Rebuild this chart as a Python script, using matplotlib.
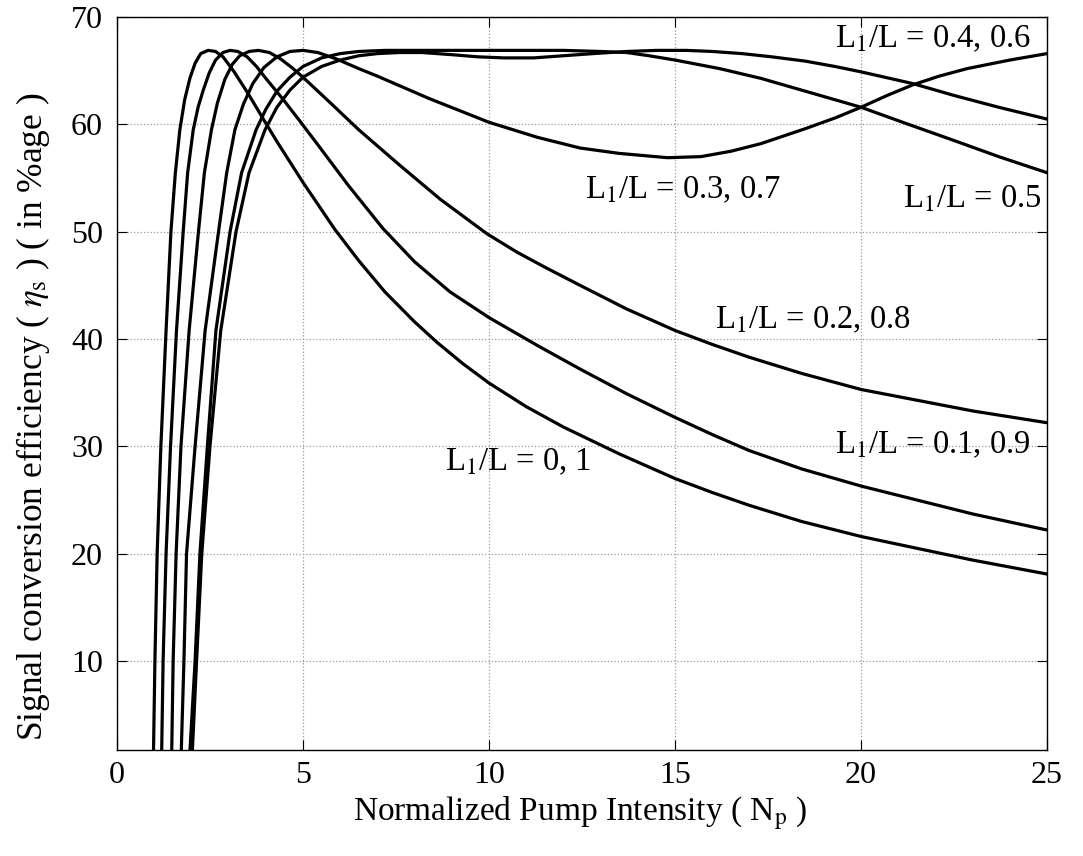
import matplotlib
matplotlib.use("Agg")
import matplotlib.pyplot as plt

plt.rcParams['font.family'] = ['Liberation Serif', 'DejaVu Serif']
plt.rcParams['mathtext.fontset'] = 'stix'

# L1/L = 0, 1
x_a = [0.975, 1.02, 1.08, 1.18, 1.32, 1.45, 1.57, 1.69, 1.82, 1.96, 2.1, 2.25, 2.45, 2.65, 2.85, 3.15,
       3.52, 3.9, 4.3, 5.0, 5.86, 6.5, 7.2, 8.0, 8.6, 9.3, 10.0, 11.0, 12.0, 13.5, 15.0, 16.0, 17.0,
       18.4, 20.0, 21.5, 23.0, 25.0]
y_a = [0, 10, 20, 30, 40.8, 50, 55.5, 59.5, 62.3, 64.3, 65.7, 66.6, 66.9, 66.8, 66.3, 64.9,
       62.9, 60.7, 58.4, 54.6, 50.2, 47.3, 44.4, 41.6, 39.7, 37.7, 35.9, 33.7, 31.8, 29.3, 27.0, 25.7, 24.5,
       23.0, 21.6, 20.5, 19.4, 18.1]

# L1/L = 0.1, 0.9
x_b = [1.195, 1.24, 1.32, 1.44, 1.60, 1.78, 1.90, 2.05, 2.18, 2.32, 2.48, 2.65, 2.85, 3.04, 3.25, 3.5,
       3.75, 4.0, 4.45, 4.92, 5.4, 6.2, 7.15, 8.0, 8.95, 10.0, 11.3, 12.45, 13.7, 15.0, 16.0, 17.0,
       18.4, 20.0, 21.5, 23.0, 25.0]
y_b = [0, 10, 20, 30, 40.8, 50, 55.5, 59.5, 61.6, 63.2, 64.8, 66.0, 66.7, 66.9, 66.8, 66.3,
       65.4, 64.3, 62.4, 60.3, 58.1, 54.4, 50.3, 47.2, 44.4, 42.0, 39.4, 37.2, 34.9, 32.7, 31.1, 29.6,
       27.9, 26.3, 25.0, 23.7, 22.2]

# L1/L = 0.2, 0.8
x_c = [1.465, 1.51, 1.59, 1.72, 1.94, 2.19, 2.35, 2.54, 2.7, 2.9, 3.1, 3.3, 3.55, 3.8, 4.1, 4.4,
       4.7, 5.0, 5.4, 5.8, 6.5, 7.6, 8.7, 9.95, 10.75, 11.5, 12.45, 13.7, 15.0, 16.0, 17.0, 18.4,
       20.0, 21.5, 23.0, 25.0]
y_c = [0, 10, 20, 30, 40.8, 50, 55.5, 59.5, 62.0, 64.2, 65.6, 66.4, 66.8, 66.9, 66.7, 66.1,
       65.3, 64.4, 63.1, 61.8, 59.5, 56.2, 53.0, 49.8, 48.1, 46.7, 45.0, 42.8, 40.8, 39.5, 38.3, 36.8,
       35.3, 34.3, 33.3, 32.2]

# L1/L = 0.3, 0.7
x_d = [1.715, 1.80, 1.87, 2.10, 2.37, 2.73, 2.95, 3.17, 3.4, 3.65, 3.95, 4.3, 4.65, 5.0, 5.4, 5.9,
       6.5, 7.0, 7.6, 8.4, 9.2, 10.0, 11.3, 12.45, 13.5, 14.8, 15.7, 16.5, 17.3, 18.5, 19.3, 20.0,
       20.7, 21.4, 22.1, 22.85, 24.0, 25.0]
y_d = [0, 10, 20, 30, 40.8, 50, 55.5, 59.5, 61.9, 63.8, 65.3, 66.3, 66.8, 66.9, 66.7, 66.1,
       65.2, 64.5, 63.6, 62.4, 61.3, 60.2, 58.8, 57.8, 57.3, 56.9, 57.0, 57.5, 58.2, 59.6, 60.6, 61.6,
       62.7, 63.7, 64.5, 65.2, 66.0, 66.6]

# L1/L = 0.5
x_e = [1.935, 2.10, 2.23, 2.43, 2.66, 3.04, 3.35, 3.74, 4.0, 4.3, 4.65, 5.0, 5.5, 6.0, 6.5, 7.2,
       8.0, 9.0, 10.0, 11.0, 12.0, 13.0, 13.7, 14.3, 15.0, 16.2, 17.3, 18.5, 20.0, 21.2, 22.5, 23.7, 25.0]
y_e = [0, 10, 20, 30, 40.8, 50, 55.5, 59.5, 61.4, 63.1, 64.4, 65.4, 66.2, 66.6, 66.8, 66.9,
       66.9, 66.9, 66.9, 66.9, 66.9, 66.8, 66.7, 66.4, 66.0, 65.2, 64.3, 63.1, 61.6, 60.1, 58.5, 57.0, 55.5]

# L1/L = 0.4, 0.6
x_f = [2.005, 2.14, 2.28, 2.50, 2.79, 3.20, 3.55, 3.98, 4.3, 4.65, 5.0, 5.5, 6.0, 6.5, 7.0, 7.6,
       8.2, 9.0, 9.7, 10.4, 11.2, 12.0, 12.8, 13.7, 14.5, 15.3, 16.0, 16.8, 17.6, 18.5, 19.3, 20.0,
       21.4, 22.5, 23.7, 25.0]
y_f = [0, 10, 20, 30, 40.8, 50, 55.5, 59.5, 61.6, 63.2, 64.4, 65.4, 66.0, 66.4, 66.6, 66.7,
       66.7, 66.5, 66.3, 66.2, 66.2, 66.4, 66.6, 66.8, 66.9, 66.9, 66.8, 66.6, 66.3, 65.9, 65.4, 64.9,
       63.8, 62.7, 61.6, 60.5]

curves = [(x_a, y_a), (x_b, y_b), (x_c, y_c), (x_d, y_d), (x_e, y_e), (x_f, y_f)]

labels = [r'L$_1$/L = 0.4, 0.6', r'L$_1$/L = 0.3, 0.7', r'L$_1$/L = 0.5',
          r'L$_1$/L = 0.2, 0.8', r'L$_1$/L = 0.1, 0.9', r'L$_1$/L = 0, 1']
label_x = [19.3, 12.58, 21.13, 16.08, 19.3, 8.82]
label_y = [68.0, 53.9, 53.0, 41.8, 30.1, 28.5]

x_ticks = [0, 5, 10, 15, 20, 25]
y_ticks = [10, 20, 30, 40, 50, 60, 70]

fig = plt.figure(figsize=(10.83, 8.56), dpi=100)
ax = fig.add_axes([0.108, 0.1238, 0.8588, 0.8562])

for xs, ys in curves:
    ax.plot(xs, ys, color='black', linewidth=2.3, solid_joinstyle='round', solid_capstyle='round')

for txt, tx, ty in zip(labels, label_x, label_y):
    ax.text(tx, ty, txt, fontsize=23.5, ha='left', va='center')

ax.set_xlim(0, 25)
ax.set_ylim(1.7, 70)
ax.set_xticks(x_ticks)
ax.set_yticks(y_ticks)
ax.tick_params(direction='in', length=7, width=0.8, labelsize=23, top=True, right=True)
ax.tick_params(axis='x', pad=8)
ax.tick_params(axis='y', pad=10)
ax.grid(True, linestyle=':', color='#9a9a9a', linewidth=0.9)
for s in ax.spines.values():
    s.set_linewidth(1.0)

ax.set_xlabel(r'Normalized Pump Intensity ( N$_{\mathrm{p}}$ )', fontsize=24)
ax.set_ylabel(r'Signal conversion efficiency ( $\eta_{\mathrm{s}}$ ) ( in %age )', fontsize=25.5)
ax.xaxis.set_label_coords(0.498, -0.06)
ax.yaxis.set_label_coords(-0.07, 0.455)

fig.savefig('out.png', dpi=100)
